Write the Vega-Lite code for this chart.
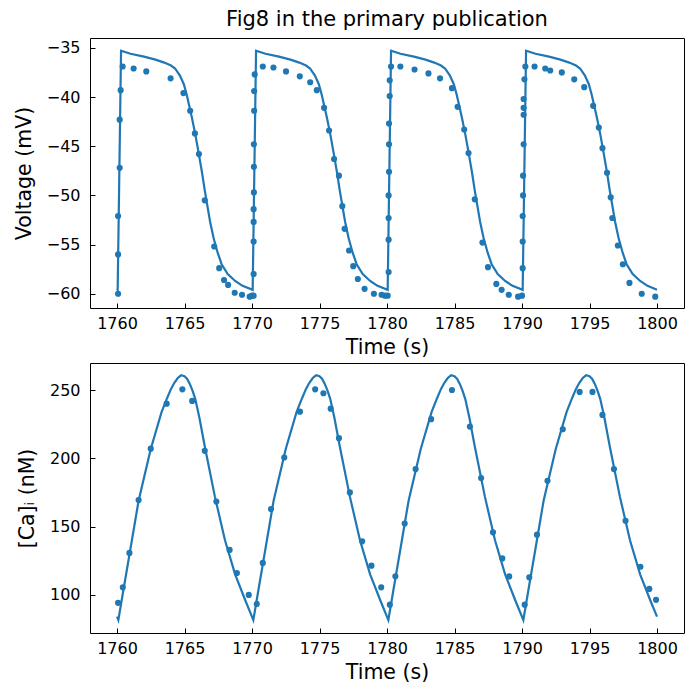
{
  "$schema": "https://vega.github.io/schema/vega-lite/v6.json",
  "padding": {"left": 13, "top": 8, "right": 0, "bottom": 0},
  "spacing": 55,
  "bounds": "flush",
  "datasets": {
    "vline": [
      {"t": 1760.0, "v": -59.5}, {"t": 1760.05, "v": -59.6}, {"t": 1760.3, "v": -35.3}, {"t": 1761.0, "v": -35.6}, {"t": 1762.0, "v": -35.9}, {"t": 1762.85, "v": -36.2}, {"t": 1763.5, "v": -36.5}, {"t": 1764.0, "v": -36.8}, {"t": 1764.3, "v": -37.1}, {"t": 1764.65, "v": -37.8}, {"t": 1764.95, "v": -38.7}, {"t": 1765.15, "v": -39.7}, {"t": 1765.35, "v": -40.9}, {"t": 1765.55, "v": -42.1}, {"t": 1765.8, "v": -43.8}, {"t": 1766.05, "v": -45.7}, {"t": 1766.3, "v": -47.7}, {"t": 1766.5, "v": -49.5}, {"t": 1766.7, "v": -51.1}, {"t": 1766.9, "v": -52.7}, {"t": 1767.15, "v": -54.3}, {"t": 1767.45, "v": -55.8}, {"t": 1767.75, "v": -57.0}, {"t": 1768.2, "v": -58.0}, {"t": 1768.75, "v": -58.7}, {"t": 1769.3, "v": -59.2},
      {"t": 1770.05, "v": -59.6}, {"t": 1770.3, "v": -35.3}, {"t": 1771.0, "v": -35.6}, {"t": 1772.0, "v": -35.9}, {"t": 1772.85, "v": -36.2}, {"t": 1773.5, "v": -36.5}, {"t": 1774.0, "v": -36.8}, {"t": 1774.3, "v": -37.1}, {"t": 1774.65, "v": -37.8}, {"t": 1774.95, "v": -38.7}, {"t": 1775.15, "v": -39.7}, {"t": 1775.35, "v": -40.9}, {"t": 1775.55, "v": -42.1}, {"t": 1775.8, "v": -43.8}, {"t": 1776.05, "v": -45.7}, {"t": 1776.3, "v": -47.7}, {"t": 1776.5, "v": -49.5}, {"t": 1776.7, "v": -51.1}, {"t": 1776.9, "v": -52.7}, {"t": 1777.15, "v": -54.3}, {"t": 1777.45, "v": -55.8}, {"t": 1777.75, "v": -57.0}, {"t": 1778.2, "v": -58.0}, {"t": 1778.75, "v": -58.7}, {"t": 1779.3, "v": -59.2},
      {"t": 1780.05, "v": -59.6}, {"t": 1780.3, "v": -35.3}, {"t": 1781.0, "v": -35.6}, {"t": 1782.0, "v": -35.9}, {"t": 1782.85, "v": -36.2}, {"t": 1783.5, "v": -36.5}, {"t": 1784.0, "v": -36.8}, {"t": 1784.3, "v": -37.1}, {"t": 1784.65, "v": -37.8}, {"t": 1784.95, "v": -38.7}, {"t": 1785.15, "v": -39.7}, {"t": 1785.35, "v": -40.9}, {"t": 1785.55, "v": -42.1}, {"t": 1785.8, "v": -43.8}, {"t": 1786.05, "v": -45.7}, {"t": 1786.3, "v": -47.7}, {"t": 1786.5, "v": -49.5}, {"t": 1786.7, "v": -51.1}, {"t": 1786.9, "v": -52.7}, {"t": 1787.15, "v": -54.3}, {"t": 1787.45, "v": -55.8}, {"t": 1787.75, "v": -57.0}, {"t": 1788.2, "v": -58.0}, {"t": 1788.75, "v": -58.7}, {"t": 1789.3, "v": -59.2},
      {"t": 1790.05, "v": -59.6}, {"t": 1790.3, "v": -35.3}, {"t": 1791.0, "v": -35.6}, {"t": 1792.0, "v": -35.9}, {"t": 1792.85, "v": -36.2}, {"t": 1793.5, "v": -36.5}, {"t": 1794.0, "v": -36.8}, {"t": 1794.3, "v": -37.1}, {"t": 1794.65, "v": -37.8}, {"t": 1794.95, "v": -38.7}, {"t": 1795.15, "v": -39.7}, {"t": 1795.35, "v": -40.9}, {"t": 1795.55, "v": -42.1}, {"t": 1795.8, "v": -43.8}, {"t": 1796.05, "v": -45.7}, {"t": 1796.3, "v": -47.7}, {"t": 1796.5, "v": -49.5}, {"t": 1796.7, "v": -51.1}, {"t": 1796.9, "v": -52.7}, {"t": 1797.15, "v": -54.3}, {"t": 1797.45, "v": -55.8}, {"t": 1797.75, "v": -57.0}, {"t": 1798.2, "v": -58.0}, {"t": 1798.75, "v": -58.7}, {"t": 1799.3, "v": -59.2}, {"t": 1800.0, "v": -59.6}
    ],
    "vdots": [
      {"t": 1760.08, "v": -60.0}, {"t": 1760.08, "v": -56.0}, {"t": 1760.08, "v": -52.1}, {"t": 1760.2, "v": -47.2}, {"t": 1760.2, "v": -42.3}, {"t": 1760.27, "v": -39.3}, {"t": 1760.42, "v": -36.9}, {"t": 1761.23, "v": -37.1}, {"t": 1762.17, "v": -37.4}, {"t": 1763.97, "v": -38.1}, {"t": 1764.92, "v": -39.6}, {"t": 1765.42, "v": -41.4}, {"t": 1765.77, "v": -43.7}, {"t": 1766.07, "v": -45.8}, {"t": 1766.5, "v": -50.5}, {"t": 1767.2, "v": -55.2}, {"t": 1767.57, "v": -57.4}, {"t": 1767.93, "v": -58.6}, {"t": 1768.23, "v": -59.1}, {"t": 1768.72, "v": -59.9}, {"t": 1769.26, "v": -60.1}, {"t": 1769.83, "v": -60.3}, {"t": 1770.0, "v": -60.2},
      {"t": 1770.12, "v": -60.2}, {"t": 1770.12, "v": -58.0}, {"t": 1770.12, "v": -54.7}, {"t": 1770.12, "v": -52.7}, {"t": 1770.12, "v": -51.4}, {"t": 1770.14, "v": -49.7}, {"t": 1770.14, "v": -47.1}, {"t": 1770.14, "v": -44.8}, {"t": 1770.16, "v": -41.4}, {"t": 1770.16, "v": -39.4}, {"t": 1770.2, "v": -37.7}, {"t": 1770.8, "v": -36.9}, {"t": 1771.59, "v": -37.0}, {"t": 1772.52, "v": -37.4}, {"t": 1773.54, "v": -37.9}, {"t": 1774.31, "v": -38.5}, {"t": 1774.8, "v": -39.3}, {"t": 1775.34, "v": -41.1}, {"t": 1775.71, "v": -43.4}, {"t": 1776.08, "v": -46.3}, {"t": 1776.44, "v": -48.0}, {"t": 1776.69, "v": -51.1}, {"t": 1776.86, "v": -53.4}, {"t": 1777.19, "v": -55.6}, {"t": 1777.5, "v": -57.2}, {"t": 1777.84, "v": -58.5}, {"t": 1778.34, "v": -59.5}, {"t": 1779.03, "v": -60.0}, {"t": 1779.6, "v": -60.1}, {"t": 1779.85, "v": -60.2}, {"t": 1780.05, "v": -60.2},
      {"t": 1780.12, "v": -57.8}, {"t": 1780.12, "v": -54.5}, {"t": 1780.12, "v": -52.3}, {"t": 1780.12, "v": -50.0}, {"t": 1780.15, "v": -47.6}, {"t": 1780.15, "v": -44.8}, {"t": 1780.15, "v": -42.7}, {"t": 1780.2, "v": -39.9}, {"t": 1780.2, "v": -38.3}, {"t": 1780.3, "v": -36.9}, {"t": 1780.99, "v": -36.9}, {"t": 1782.04, "v": -37.2}, {"t": 1783.07, "v": -37.6}, {"t": 1783.93, "v": -38.1}, {"t": 1784.81, "v": -39.1}, {"t": 1785.23, "v": -41.0}, {"t": 1785.72, "v": -43.3}, {"t": 1786.04, "v": -45.7}, {"t": 1786.5, "v": -50.4}, {"t": 1787.07, "v": -54.8}, {"t": 1787.48, "v": -57.3}, {"t": 1788.1, "v": -59.0}, {"t": 1788.49, "v": -59.6}, {"t": 1789.02, "v": -60.1}, {"t": 1789.71, "v": -60.3}, {"t": 1790.0, "v": -60.2},
      {"t": 1790.05, "v": -57.4}, {"t": 1790.05, "v": -54.7}, {"t": 1790.05, "v": -52.1}, {"t": 1790.08, "v": -50.0}, {"t": 1790.08, "v": -48.0}, {"t": 1790.12, "v": -44.8}, {"t": 1790.12, "v": -41.8}, {"t": 1790.12, "v": -41.1}, {"t": 1790.12, "v": -40.2}, {"t": 1790.18, "v": -38.2}, {"t": 1790.25, "v": -36.9}, {"t": 1790.93, "v": -36.9}, {"t": 1791.72, "v": -37.1}, {"t": 1792.09, "v": -37.3}, {"t": 1792.95, "v": -37.5}, {"t": 1793.87, "v": -38.2}, {"t": 1794.61, "v": -39.0}, {"t": 1795.27, "v": -40.9}, {"t": 1795.69, "v": -43.1}, {"t": 1795.96, "v": -45.2}, {"t": 1796.3, "v": -47.7}, {"t": 1796.57, "v": -50.2}, {"t": 1796.69, "v": -52.3}, {"t": 1797.1, "v": -55.1}, {"t": 1797.47, "v": -57.0}, {"t": 1797.96, "v": -58.9}, {"t": 1798.87, "v": -60.0}, {"t": 1799.87, "v": -60.3}
    ],
    "cline": [
      {"t": 1760.0, "c": 84}, {"t": 1760.1, "c": 81.5}, {"t": 1760.5, "c": 105}, {"t": 1761.0, "c": 134}, {"t": 1761.6, "c": 169}, {"t": 1762.5, "c": 207}, {"t": 1763.3, "c": 234}, {"t": 1763.7, "c": 244}, {"t": 1764.0, "c": 251}, {"t": 1764.25, "c": 255.5}, {"t": 1764.5, "c": 259}, {"t": 1764.75, "c": 261}, {"t": 1765.0, "c": 260.3}, {"t": 1765.2, "c": 258.3}, {"t": 1765.4, "c": 254.5}, {"t": 1765.6, "c": 249.5}, {"t": 1765.8, "c": 243.5}, {"t": 1766.1, "c": 230}, {"t": 1766.5, "c": 209}, {"t": 1767.25, "c": 172}, {"t": 1768.0, "c": 140}, {"t": 1768.75, "c": 115}, {"t": 1769.5, "c": 96},
      {"t": 1770.1, "c": 81.5}, {"t": 1770.5, "c": 105}, {"t": 1771.0, "c": 134}, {"t": 1771.6, "c": 169}, {"t": 1772.5, "c": 207}, {"t": 1773.3, "c": 234}, {"t": 1773.7, "c": 244}, {"t": 1774.0, "c": 251}, {"t": 1774.25, "c": 255.5}, {"t": 1774.5, "c": 259}, {"t": 1774.75, "c": 261}, {"t": 1775.0, "c": 260.3}, {"t": 1775.2, "c": 258.3}, {"t": 1775.4, "c": 254.5}, {"t": 1775.6, "c": 249.5}, {"t": 1775.8, "c": 243.5}, {"t": 1776.1, "c": 230}, {"t": 1776.5, "c": 209}, {"t": 1777.25, "c": 172}, {"t": 1778.0, "c": 140}, {"t": 1778.75, "c": 115}, {"t": 1779.5, "c": 96},
      {"t": 1780.1, "c": 81.5}, {"t": 1780.5, "c": 105}, {"t": 1781.0, "c": 134}, {"t": 1781.6, "c": 169}, {"t": 1782.5, "c": 207}, {"t": 1783.3, "c": 234}, {"t": 1783.7, "c": 244}, {"t": 1784.0, "c": 251}, {"t": 1784.25, "c": 255.5}, {"t": 1784.5, "c": 259}, {"t": 1784.75, "c": 261}, {"t": 1785.0, "c": 260.3}, {"t": 1785.2, "c": 258.3}, {"t": 1785.4, "c": 254.5}, {"t": 1785.6, "c": 249.5}, {"t": 1785.8, "c": 243.5}, {"t": 1786.1, "c": 230}, {"t": 1786.5, "c": 209}, {"t": 1787.25, "c": 172}, {"t": 1788.0, "c": 140}, {"t": 1788.75, "c": 115}, {"t": 1789.5, "c": 96},
      {"t": 1790.1, "c": 81.5}, {"t": 1790.5, "c": 105}, {"t": 1791.0, "c": 134}, {"t": 1791.6, "c": 169}, {"t": 1792.5, "c": 207}, {"t": 1793.3, "c": 234}, {"t": 1793.7, "c": 244}, {"t": 1794.0, "c": 251}, {"t": 1794.25, "c": 255.5}, {"t": 1794.5, "c": 259}, {"t": 1794.75, "c": 261}, {"t": 1795.0, "c": 260.3}, {"t": 1795.2, "c": 258.3}, {"t": 1795.4, "c": 254.5}, {"t": 1795.6, "c": 249.5}, {"t": 1795.8, "c": 243.5}, {"t": 1796.1, "c": 230}, {"t": 1796.5, "c": 209}, {"t": 1797.25, "c": 172}, {"t": 1798.0, "c": 140}, {"t": 1798.75, "c": 115}, {"t": 1799.5, "c": 96}, {"t": 1800.0, "c": 84}
    ],
    "cdots": [
      {"t": 1760.08, "c": 94.1}, {"t": 1760.43, "c": 105.5}, {"t": 1760.92, "c": 130.7}, {"t": 1761.6, "c": 169.5}, {"t": 1762.5, "c": 207.2}, {"t": 1763.68, "c": 240.2}, {"t": 1764.84, "c": 250.7}, {"t": 1765.57, "c": 242.2}, {"t": 1766.5, "c": 205.6}, {"t": 1767.36, "c": 168.4}, {"t": 1768.34, "c": 132.9}, {"t": 1768.88, "c": 116.0}, {"t": 1769.76, "c": 99.9},
      {"t": 1770.35, "c": 93.3}, {"t": 1770.8, "c": 123.4}, {"t": 1771.41, "c": 162.9}, {"t": 1772.39, "c": 200.7}, {"t": 1773.55, "c": 234.3}, {"t": 1774.68, "c": 250.7}, {"t": 1775.29, "c": 247.8}, {"t": 1775.83, "c": 236.5}, {"t": 1776.44, "c": 214.9}, {"t": 1777.25, "c": 175.1}, {"t": 1778.16, "c": 139.2}, {"t": 1778.85, "c": 121.4}, {"t": 1779.57, "c": 105.5},
      {"t": 1780.21, "c": 92.8}, {"t": 1780.62, "c": 113.6}, {"t": 1781.31, "c": 152.3}, {"t": 1782.12, "c": 192.2}, {"t": 1783.27, "c": 228.8}, {"t": 1784.81, "c": 250.2}, {"t": 1786.14, "c": 223.4}, {"t": 1786.97, "c": 185.6}, {"t": 1787.85, "c": 145.8}, {"t": 1788.54, "c": 126.7}, {"t": 1789.05, "c": 113.5},
      {"t": 1790.2, "c": 92.8}, {"t": 1790.54, "c": 112.8}, {"t": 1791.11, "c": 144.1}, {"t": 1791.89, "c": 183.6}, {"t": 1793.02, "c": 221.4}, {"t": 1794.27, "c": 248.8}, {"t": 1795.22, "c": 248.8}, {"t": 1795.96, "c": 231.9}, {"t": 1796.81, "c": 192.2}, {"t": 1797.67, "c": 154.3}, {"t": 1798.77, "c": 120.6}, {"t": 1799.43, "c": 104.3}, {"t": 1799.93, "c": 96.3}
    ]
  },
  "vconcat": [
    {
      "width": 594,
      "height": 270,
      "title": {"text": "Fig8 in the primary publication", "offset": 8},
      "encoding": {
        "x": {"field": "t", "type": "quantitative", "scale": {"domain": [1758, 1802], "nice": false, "zero": false}, "axis": {"values": [1760, 1765, 1770, 1775, 1780, 1785, 1790, 1795, 1800], "format": "d", "title": "Time (s)"}},
        "y": {"field": "v", "type": "quantitative", "scale": {"domain": [-61.45, -34.0], "nice": false, "zero": false}, "axis": {"values": [-60, -55, -50, -45, -40, -35], "title": "Voltage (mV)"}}
      },
      "layer": [
        {"data": {"name": "vline"}, "mark": {"type": "line", "color": "#1f77b4", "strokeWidth": 2.2}},
        {"data": {"name": "vdots"}, "mark": {"type": "circle", "color": "#1f77b4", "size": 38, "opacity": 1}}
      ]
    },
    {
      "width": 594,
      "height": 270,
      "encoding": {
        "x": {"field": "t", "type": "quantitative", "scale": {"domain": [1758, 1802], "nice": false, "zero": false}, "axis": {"values": [1760, 1765, 1770, 1775, 1780, 1785, 1790, 1795, 1800], "format": "d", "title": "Time (s)"}},
        "y": {"field": "c", "type": "quantitative", "scale": {"domain": [72, 270], "nice": false, "zero": false}, "axis": {"values": [100, 150, 200, 250], "title": "[Ca]ᵢ (nM)"}}
      },
      "layer": [
        {"data": {"name": "cline"}, "mark": {"type": "line", "color": "#1f77b4", "strokeWidth": 2.2}},
        {"data": {"name": "cdots"}, "mark": {"type": "circle", "color": "#1f77b4", "size": 38, "opacity": 1}}
      ]
    }
  ],
  "resolve": {"scale": {"x": "independent", "y": "independent"}},
  "config": {
    "font": "DejaVu Sans",
    "view": {"stroke": "#000000", "strokeWidth": 1},
    "axis": {
      "domain": false,
      "grid": false,
      "ticks": true,
      "tickColor": "#000000",
      "tickSize": -5,
      "tickWidth": 1,
      "labelFont": "DejaVu Sans",
      "labelFontSize": 16,
      "labelColor": "#000000",
      "titleFont": "DejaVu Sans",
      "titleFontSize": 20.5,
      "titleFontWeight": "normal",
      "titleColor": "#000000"
    },
    "axisX": {"labelPadding": 12, "titlePadding": 6},
    "axisY": {"labelPadding": 15, "titlePadding": 12},
    "title": {"font": "DejaVu Sans", "fontSize": 21, "fontWeight": "normal", "color": "#000000", "anchor": "middle"}
  }
}
